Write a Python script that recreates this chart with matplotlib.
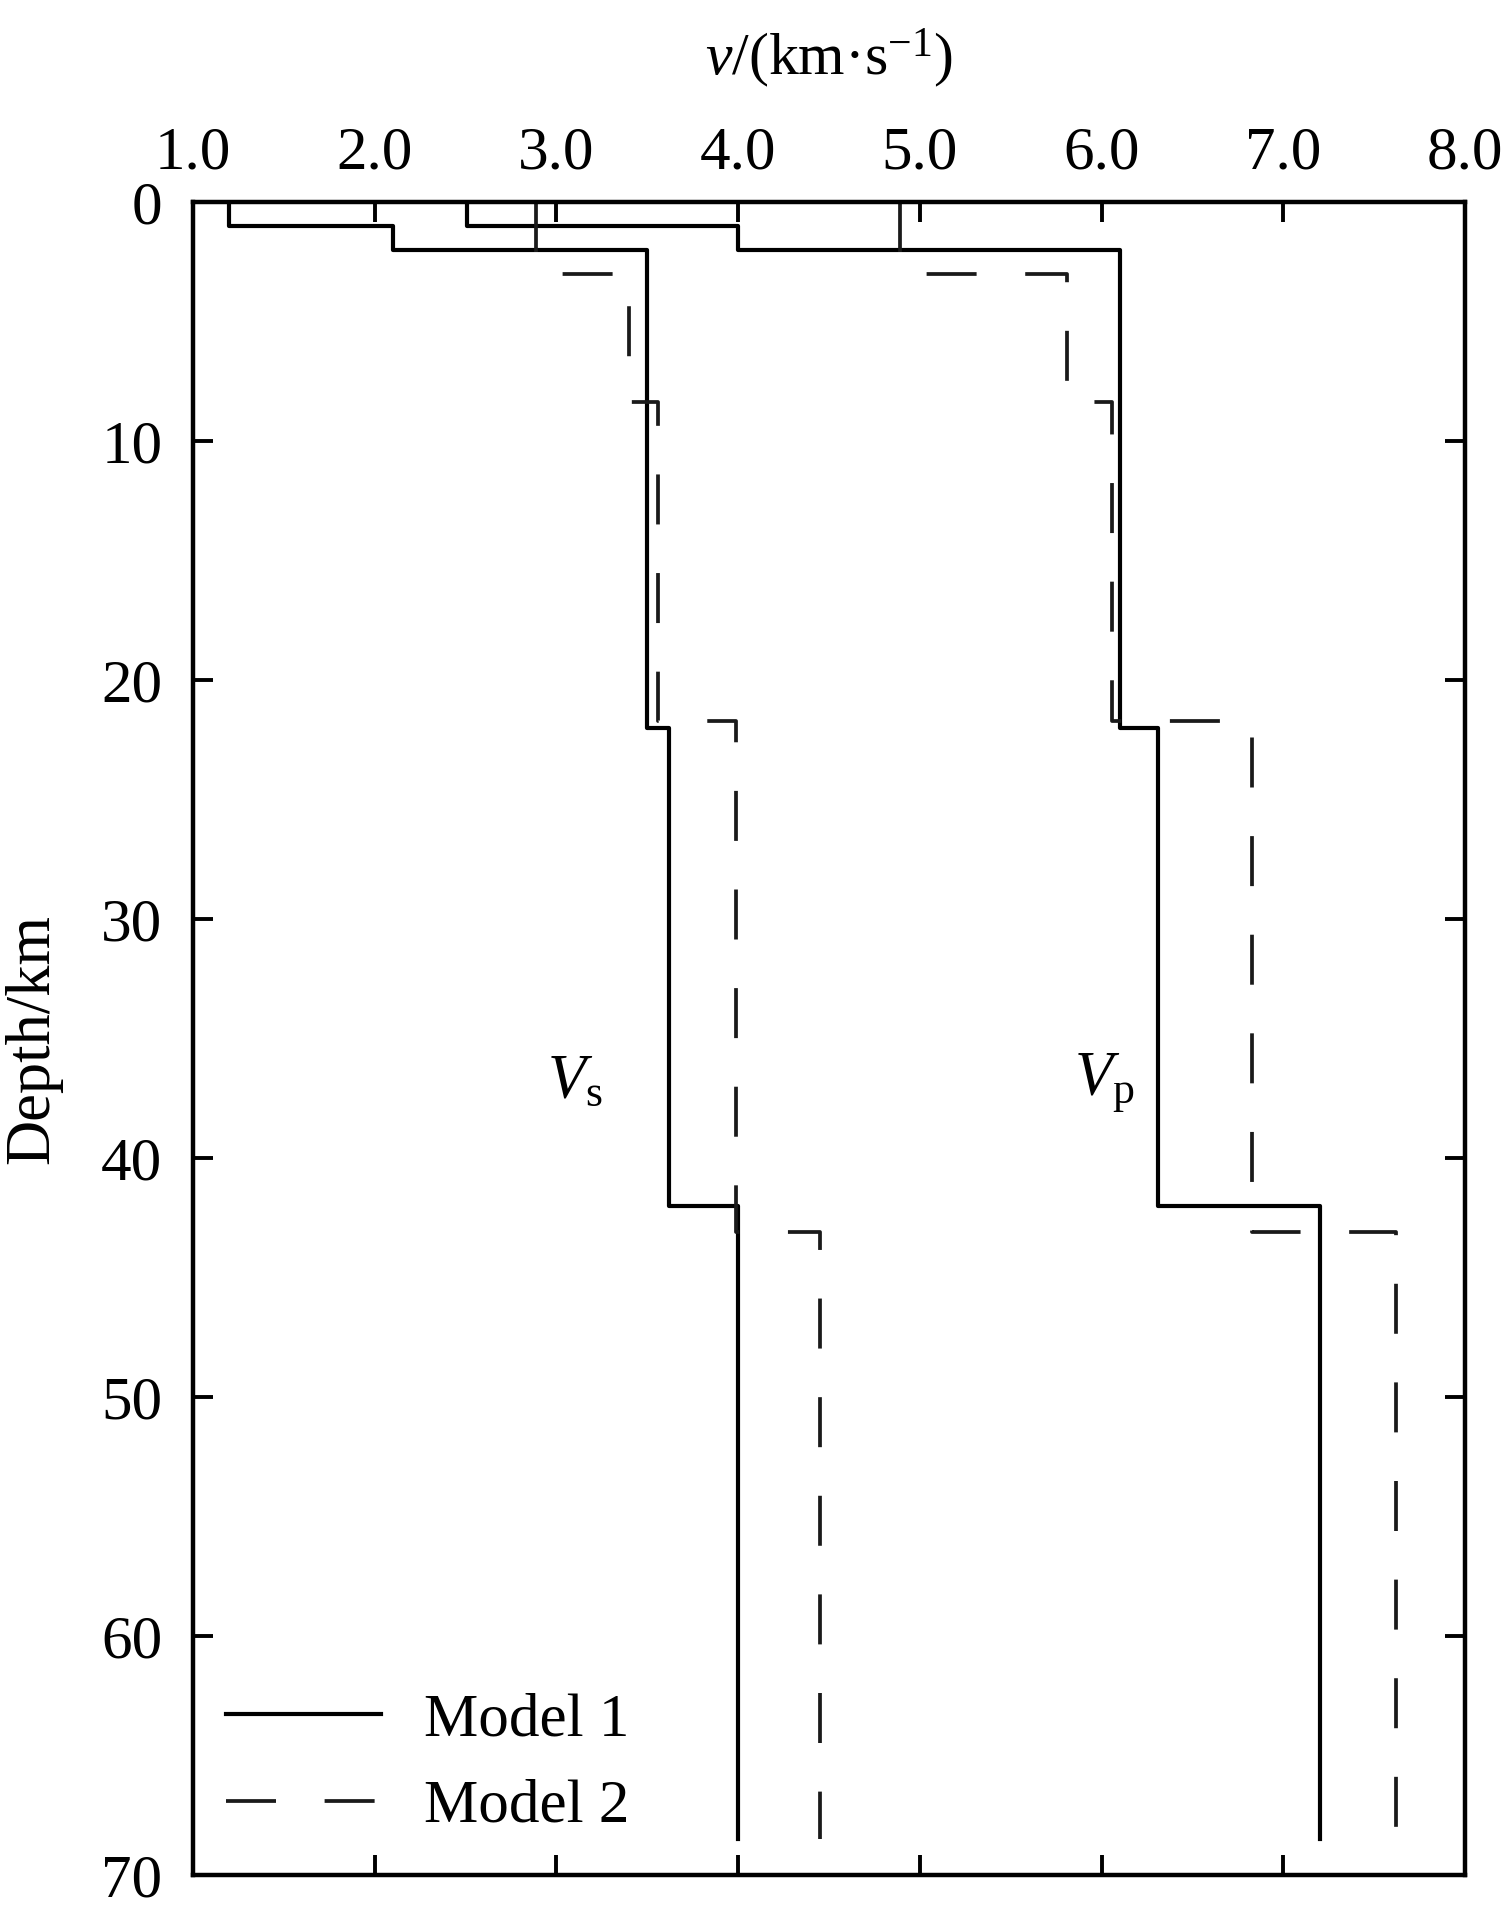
import numpy as np
import matplotlib
matplotlib.use("Agg")
import matplotlib.pyplot as plt

plt.rcParams['font.family'] = 'Liberation Serif'
plt.rcParams['mathtext.fontset'] = 'custom'
plt.rcParams['mathtext.rm'] = 'Liberation Serif'
plt.rcParams['mathtext.it'] = 'Liberation Serif:italic'
plt.rcParams['lines.scale_dashes'] = False

## layer tops/bottoms (km) and velocities (km/s)
m1_depth = [0, 1, 2, 22, 42, 68.5]
m1_vs = [1.2, 2.1, 3.5, 3.62, 4.0]
m1_vp = [2.51, 4.0, 6.1, 6.31, 7.2]

m2_depth = [0, 3, 8.35, 21.7, 43.1, 68.5]
m2_vs = [2.89, 3.40, 3.56, 3.99, 4.45]
m2_vp = [4.89, 5.81, 6.06, 6.83, 7.62]

xticks = [1.0, 2.0, 3.0, 4.0, 5.0, 6.0, 7.0, 8.0]
yticks = [0, 10, 20, 30, 40, 50, 60, 70]


def profile(depth, vel):
    # staircase: each layer is a vertical segment at constant velocity
    d = np.array(depth)
    x = np.repeat(vel, 2)
    y = np.column_stack([d[:-1], d[1:]]).ravel()
    return x, y


fig = plt.figure(figsize=(15.01, 19.19), dpi=100)
ax = fig.add_axes([0.1286, 0.0229, 0.9760 - 0.1286, 0.8947 - 0.0229])

lw = 3.0
x, y = profile(m1_depth, m1_vs)
ax.plot(x, y, color='black', lw=lw, label='Model 1')
x, y = profile(m1_depth, m1_vp)
ax.plot(x, y, color='black', lw=lw)
x, y = profile(m2_depth, m2_vs)
ax.plot(x, y, color='#1a1a1a', lw=2.7, dashes=(36, 35), label='Model 2')
x, y = profile(m2_depth, m2_vp)
ax.plot(x, y, color='#1a1a1a', lw=2.7, dashes=(36, 35))

ax.set_xlim(1.0, 8.0)
ax.set_ylim(70, 0)
ax.set_xticks(xticks)
ax.set_xticklabels(['%.1f' % t for t in xticks])
ax.set_yticks(yticks)

ax.xaxis.tick_top()
ax.xaxis.set_label_position('top')
ax.tick_params(axis='both', which='major', direction='in', length=14.5, width=2.8,
               labelsize=44, top=True, bottom=True, left=True, right=True)
ax.tick_params(axis='x', pad=15)
ax.tick_params(axis='y', pad=22)
for s in ax.spines.values():
    s.set_linewidth(3.2)

ax.set_xlabel(r'$v$/(km·s$^{\mathrm{-1}}$)', fontsize=43, labelpad=37)
ax.set_ylabel('Depth/km', fontsize=45, labelpad=28)

ax.text(2.95, 37.5, r'$V_{\mathrm{s}}$', fontsize=45, ha='left', va='baseline')
ax.text(5.85, 37.35, r'$V_{\mathrm{p}}$', fontsize=45, ha='left', va='baseline')

ax.legend(loc='lower left', bbox_to_anchor=(0.026, 0.024), frameon=False,
          fontsize=44, handlelength=2.54, handletextpad=0.7, labelspacing=0.5,
          borderpad=0, borderaxespad=0)

fig.savefig('out.png', dpi=100)
